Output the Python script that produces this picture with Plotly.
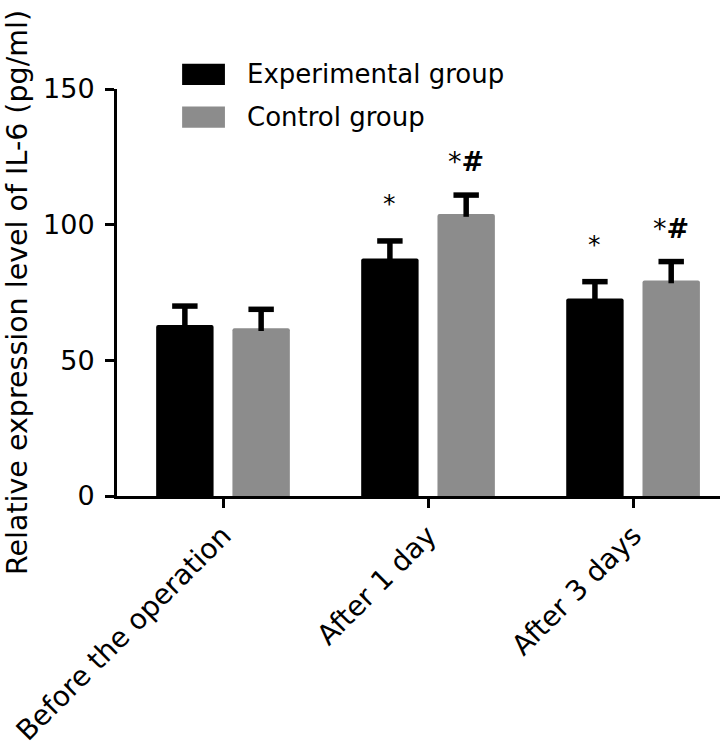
import plotly.graph_objects as go

categories = ["Before the operation", "After 1 day", "After 3 days"]
exp_values = [63.0, 87.5, 72.8]
exp_errors = [7.0, 6.5, 6.2]
ctrl_values = [61.8, 103.9, 79.4]
ctrl_errors = [7.0, 7.0, 7.0]
exp_marks = ["", "*", "*"]
ctrl_marks = ["", "*<b>#</b>", "*<b>#</b>"]
y_ticks = [0, 50, 100, 150]

FONT = "DejaVu Sans, Arial, sans-serif"
BAR_W = 0.28
EXP_OFF = -0.326
CTRL_OFF = 0.046
CAP = 0.062
xpos = list(range(len(categories)))

fig = go.Figure()
fig.add_trace(go.Bar(
    name="Experimental group", x=xpos, y=exp_values,
    width=BAR_W, offset=EXP_OFF,
    marker=dict(color="#000000", line=dict(width=0), cornerradius=2),
    showlegend=False,
))
fig.add_trace(go.Bar(
    name="Control group", x=xpos, y=ctrl_values,
    width=BAR_W, offset=CTRL_OFF,
    marker=dict(color="#8c8c8c", line=dict(width=0), cornerradius=2),
    showlegend=False,
))


def err_lines(values, errors, off):
    xs, ys = [], []
    for i, (v, e) in enumerate(zip(values, errors)):
        c = i + off + BAR_W / 2
        top = v + e
        xs += [c, c, None, c - CAP, c + CAP, None]
        ys += [v - 1, top, None, top, top, None]
    return xs, ys


for vals, errs, off in [(exp_values, exp_errors, EXP_OFF),
                        (ctrl_values, ctrl_errors, CTRL_OFF)]:
    ex, ey = err_lines(vals, errs, off)
    fig.add_trace(go.Scatter(x=ex, y=ey, mode="lines",
                             line=dict(color="#000000", width=5.5),
                             hoverinfo="skip", showlegend=False))

# significance marks
for i, (v, e, m) in enumerate(zip(exp_values, exp_errors, exp_marks)):
    if m:
        fig.add_annotation(x=i + EXP_OFF + BAR_W / 2, y=v + e, text=m,
                           showarrow=False, yanchor="bottom", yshift=21,
                           font=dict(family=FONT, size=25, color="#000000"))
for i, (v, e, m) in enumerate(zip(ctrl_values, ctrl_errors, ctrl_marks)):
    if m:
        fig.add_annotation(x=i + CTRL_OFF + BAR_W / 2, y=v + e, text=m,
                           showarrow=False, yanchor="bottom", yshift=16,
                           font=dict(family=FONT, size=27, color="#000000"))

# legend (drawn manually to match the large swatches)
legend_items = [("Experimental group", "#000000"), ("Control group", "#8c8c8c")]
for k, (label, col) in enumerate(legend_items):
    y_top = 1.062 - k * 0.105
    fig.add_shape(type="rect", xref="paper", yref="paper",
                  x0=0.108, x1=0.179, y0=y_top - 0.052, y1=y_top,
                  fillcolor=col, line=dict(width=0))
    fig.add_annotation(xref="paper", yref="paper", x=0.212, y=y_top - 0.026,
                       text=label, showarrow=False, xanchor="left",
                       yanchor="middle",
                       font=dict(family=FONT, size=26, color="#000000"))

fig.update_layout(
    width=720, height=747,
    margin=dict(l=117, r=0, t=89, b=251, autoexpand=False),
    paper_bgcolor="white", plot_bgcolor="white",
    font=dict(family=FONT, size=26, color="#000000"),
    barmode="overlay",
)
fig.update_xaxes(
    range=[-0.517, 2.424], tickvals=xpos, ticktext=categories,
    showline=True, linecolor="#000000", linewidth=3,
    ticks="outside", ticklen=9, tickwidth=3, tickcolor="#000000",
    tickangle=-45, tickfont=dict(family=FONT, size=28),
    showgrid=False, zeroline=False, automargin=False,
)
fig.update_yaxes(
    range=[0, 150], tickvals=y_ticks,
    showline=True, linecolor="#000000", linewidth=3,
    ticks="outside", ticklen=9, tickwidth=3, tickcolor="#000000",
    tickfont=dict(family=FONT, size=27), ticklabelstandoff=5,
    showgrid=False, zeroline=False, automargin=False,
    title=dict(text="Relative expression level of IL-6 (pg/ml)",
               font=dict(family=FONT, size=28.5), standoff=8),
)

fig.write_html("out.html",
               config={"displayModeBar": False},
               post_script="document.body.style.margin='0';"
                           "document.body.style.overflow='hidden';")
